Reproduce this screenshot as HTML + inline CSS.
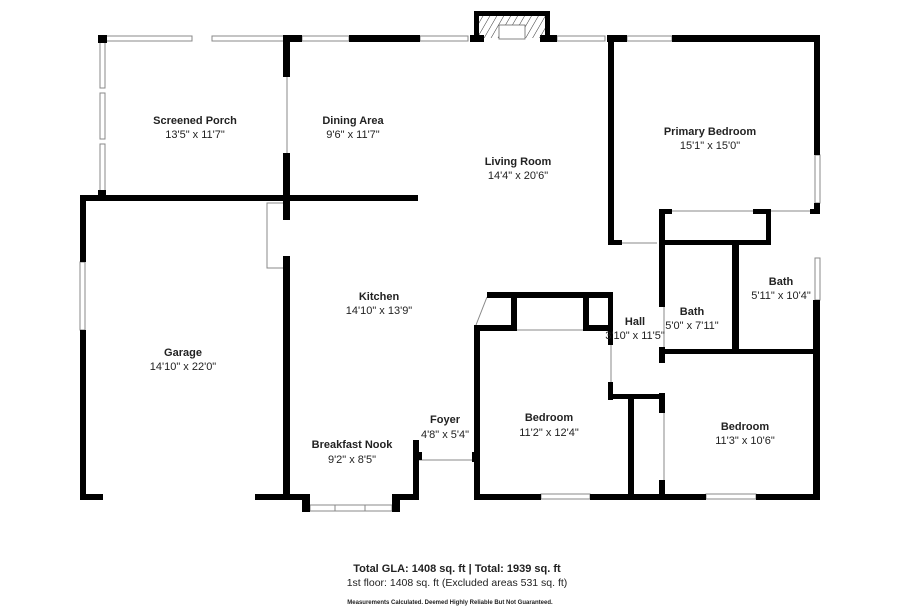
<!DOCTYPE html>
<html><head><meta charset="utf-8"><style>
html,body{margin:0;padding:0;background:#fff;width:900px;height:614px;overflow:hidden}
svg{display:block}
text{font-family:"Liberation Sans",sans-serif;fill:#222;text-anchor:middle}
.n{font-size:11px;font-weight:bold}
.d{font-size:11px}
</style></head><body>
<svg width="900" height="614" viewBox="0 0 900 614">
<defs>
<pattern id="h" width="6" height="6" patternUnits="userSpaceOnUse" patternTransform="rotate(30)">
<line x1="0" y1="0" x2="0" y2="6" stroke="#333" stroke-width="1"/></pattern>
</defs>
<g fill="none" stroke="#888" stroke-width="1">
<rect x="106" y="36" width="86" height="5"/><rect x="212" y="36" width="73" height="5"/>
<rect x="302" y="36" width="47" height="5"/><rect x="420" y="36" width="48" height="5"/>
<rect x="557" y="36" width="48" height="5"/><rect x="627" y="36" width="45" height="5"/>
<rect x="100" y="40" width="5" height="48"/><rect x="100" y="93" width="5" height="46"/><rect x="100" y="144" width="5" height="50"/>
<rect x="815" y="155" width="5" height="48"/><rect x="815" y="258" width="5" height="42"/>
<rect x="80" y="262" width="5" height="68"/>
<rect x="541" y="494" width="49" height="5"/><rect x="706" y="494" width="50" height="5"/>
<rect x="310" y="505" width="82" height="6"/>
<line x1="335" y1="505" x2="335" y2="511"/><line x1="365" y1="505" x2="365" y2="511"/>
<line x1="419" y1="460" x2="473" y2="460"/>
<line x1="672" y1="211" x2="753" y2="211"/><line x1="771" y1="211" x2="810" y2="211"/>
<line x1="622" y1="243" x2="657" y2="243"/>
<line x1="487" y1="297" x2="476" y2="325"/>
<line x1="516" y1="330" x2="583" y2="330"/>
<polyline points="287,203 267,203 267,268 287,268"/>
<line x1="611" y1="345" x2="611" y2="382"/>
<line x1="664" y1="307" x2="664" y2="347"/><line x1="664" y1="413" x2="664" y2="480"/>
<line x1="287" y1="77" x2="287" y2="153"/>
</g>
<g fill="#000">
<rect x="98" y="35" width="9" height="8"/>
<rect x="283" y="35" width="19" height="7"/>
<rect x="349" y="35" width="71" height="7"/>
<rect x="470" y="35" width="14" height="7"/><rect x="540" y="35" width="17" height="7"/>
<rect x="474" y="11" width="76" height="5"/><rect x="474" y="11" width="5" height="30"/><rect x="545" y="11" width="5" height="30"/>
<rect x="607" y="35" width="20" height="7"/>
<rect x="672" y="35" width="148" height="7"/>
<rect x="814" y="35" width="6" height="120"/>
<rect x="814" y="203" width="6" height="8"/>
<rect x="813" y="300" width="7" height="200"/>
<rect x="80" y="195" width="338" height="6"/>
<rect x="98" y="190" width="8" height="8"/>
<rect x="80" y="195" width="6" height="67"/>
<rect x="80" y="330" width="6" height="170"/>
<rect x="80" y="494" width="23" height="6"/>
<rect x="255" y="494" width="55" height="6"/>
<rect x="283" y="35" width="7" height="42"/>
<rect x="283" y="153" width="7" height="67"/>
<rect x="283" y="256" width="7" height="244"/>
<rect x="302" y="494" width="8" height="18"/><rect x="392" y="494" width="8" height="18"/>
<rect x="392" y="494" width="27" height="6"/>
<rect x="413" y="440" width="6" height="60"/><rect x="413" y="452" width="9" height="8"/>
<rect x="474" y="325" width="6" height="175"/>
<rect x="472" y="452" width="6" height="10"/>
<rect x="474" y="494" width="67" height="6"/>
<rect x="590" y="494" width="116" height="6"/>
<rect x="756" y="494" width="64" height="6"/>
<rect x="487" y="292" width="125" height="6"/>
<rect x="511" y="292" width="6" height="38"/><rect x="583" y="292" width="6" height="38"/>
<rect x="474" y="325" width="43" height="6"/><rect x="583" y="325" width="29" height="6"/>
<rect x="608" y="292" width="5" height="53"/>
<rect x="608" y="382" width="5" height="18"/>
<rect x="608" y="394" width="57" height="5"/>
<rect x="628" y="394" width="6" height="106"/>
<rect x="659" y="209" width="6" height="98"/>
<rect x="659" y="347" width="6" height="16"/>
<rect x="659" y="393" width="6" height="20"/>
<rect x="659" y="480" width="6" height="20"/>
<rect x="608" y="38" width="6" height="207"/>
<rect x="608" y="240" width="14" height="5"/>
<rect x="659" y="209" width="13" height="5"/>
<rect x="753" y="209" width="18" height="5"/>
<rect x="766" y="209" width="5" height="36"/>
<rect x="659" y="240" width="112" height="5"/>
<rect x="810" y="209" width="10" height="5"/>
<rect x="732" y="240" width="7" height="113"/>
<rect x="659" y="349" width="161" height="5"/>
</g>
<rect x="479" y="16" width="66" height="22" fill="url(#h)"/>
<rect x="499" y="25" width="26" height="14" fill="#fff" stroke="#666" stroke-width="0.8"/>

<text class="n" x="195" y="124">Screened Porch</text><text class="d" x="195" y="138">13'5" x 11'7"</text>
<text class="n" x="353" y="124">Dining Area</text><text class="d" x="353" y="138">9'6" x 11'7"</text>
<text class="n" x="518" y="165">Living Room</text><text class="d" x="518" y="179">14'4" x 20'6"</text>
<text class="n" x="710" y="135">Primary Bedroom</text><text class="d" x="710" y="149">15'1" x 15'0"</text>
<text class="n" x="781" y="285">Bath</text><text class="d" x="781" y="299">5'11" x 10'4"</text>
<text class="n" x="692" y="315">Bath</text><text class="d" x="692" y="329">5'0" x 7'11"</text>
<text class="n" x="635" y="325">Hall</text><text class="d" x="635" y="339">3'10" x 11'5"</text>
<text class="n" x="379" y="300">Kitchen</text><text class="d" x="379" y="314">14'10" x 13'9"</text>
<text class="n" x="183" y="356">Garage</text><text class="d" x="183" y="370">14'10" x 22'0"</text>
<text class="n" x="445" y="423">Foyer</text><text class="d" x="445" y="438">4'8" x 5'4"</text>
<text class="n" x="549" y="421">Bedroom</text><text class="d" x="549" y="436">11'2" x 12'4"</text>
<text class="n" x="745" y="430">Bedroom</text><text class="d" x="745" y="444">11'3" x 10'6"</text>
<text class="n" x="352" y="448">Breakfast Nook</text><text class="d" x="352" y="463">9'2" x 8'5"</text>

<text x="457" y="572" style="font-size:11px;font-weight:bold">Total GLA: 1408 sq. ft | Total: 1939 sq. ft</text>
<text x="457" y="586" style="font-size:10.5px">1st floor: 1408 sq. ft (Excluded areas 531 sq. ft)</text>
<text x="450" y="604" style="font-size:6px;font-weight:bold">Measurements Calculated. Deemed Highly Reliable But Not Guaranteed.</text>
</svg>
</body></html>
